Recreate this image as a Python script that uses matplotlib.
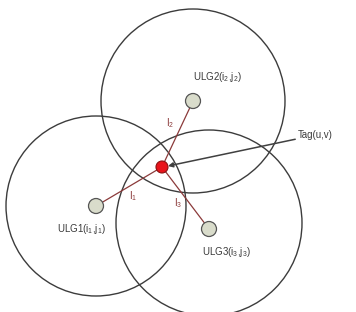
import matplotlib.pyplot as plt
from matplotlib.patches import Circle

plt.rcParams['mathtext.fontset'] = 'custom'
plt.rcParams['mathtext.rm'] = 'Liberation Sans'
plt.rcParams['mathtext.it'] = 'Liberation Sans'

# reference nodes (image pixel coords, y downwards)
node_x = [96, 193, 209]
node_y = [206, 101, 229]
# coverage circles
circ_x = [96, 193, 209]
circ_y = [206, 101, 223]
radius = [90, 92, 93]
node_labels = [r'ULG1(i$_1$,j$_1$)', r'ULG2(i$_2$,j$_2$)', r'ULG3(i$_3$,j$_3$)']
dist_labels = [r'l$_1$', r'l$_2$', r'l$_3$']

tag_x, tag_y = 162, 167
tag_label = 'Tag(u,v)'

fig = plt.figure(figsize=(3.56, 3.12), dpi=100)
ax = fig.add_axes([0, 0, 1, 1])
ax.set_xlim(0, 356)
ax.set_ylim(312, 0)
ax.set_aspect('equal')
ax.axis('off')

line_col = '#8b3a3a'
text_col = '#3a3a3a'

for i in range(3):
    ax.add_patch(Circle((circ_x[i], circ_y[i]), radius[i], fill=False,
                        edgecolor='#3c3c3c', linewidth=1.0, zorder=1))

# distance lines tag -> node
for i in range(3):
    ax.plot([tag_x, node_x[i]], [tag_y, node_y[i]], color=line_col, linewidth=0.9, zorder=2)

for i in range(3):
    ax.add_patch(Circle((node_x[i], node_y[i]), 7.5, facecolor='#d9dccb',
                        edgecolor='#555555', linewidth=0.9, zorder=3))

ax.add_patch(Circle((tag_x, tag_y), 6, facecolor='#e8141b',
                    edgecolor='#8a1010', linewidth=0.8, zorder=4))

fs = 7
ax.text(81, 229, node_labels[0], fontsize=fs, color=text_col, ha='center', va='center', family='Liberation Sans')
ax.text(217, 77, node_labels[1], fontsize=fs, color=text_col, ha='center', va='center', family='Liberation Sans')
ax.text(226, 252, node_labels[2], fontsize=fs, color=text_col, ha='center', va='center', family='Liberation Sans')

ax.text(133, 196, dist_labels[0], fontsize=fs, color=line_col, ha='center', va='center')
ax.text(170, 123, dist_labels[1], fontsize=fs, color=line_col, ha='center', va='center')
ax.text(178, 203, dist_labels[2], fontsize=fs, color=line_col, ha='center', va='center')

ax.annotate(tag_label, xy=(tag_x + 6, tag_y - 1), xytext=(298, 135),
            fontsize=fs, color=text_col, ha='left', va='center', family='Liberation Sans',
            arrowprops=dict(arrowstyle='-|>', color='#404040', lw=1.1,
                            mutation_scale=7, shrinkA=0, shrinkB=0))

fig.savefig('out.png', dpi=100)
